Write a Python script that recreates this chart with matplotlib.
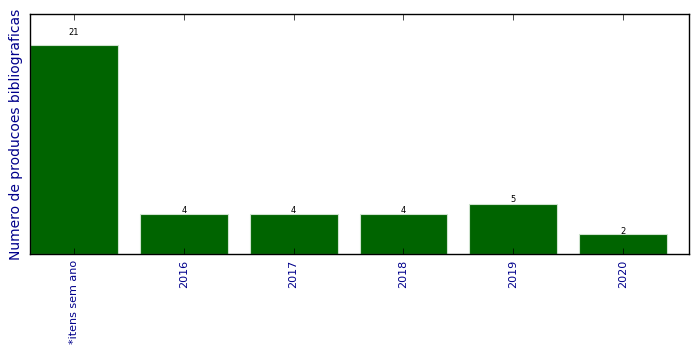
import matplotlib
matplotlib.use("Agg")
import matplotlib.pyplot as plt
import numpy as np

categories = ["*itens sem ano", "2016", "2017", "2018", "2019", "2020"]
values = [21, 4, 4, 4, 5, 2]

plt.style.use("classic")
fig = plt.figure(figsize=(6.99, 3.54), dpi=100)
ax = fig.add_axes([30/699, 1-254/354, 659/699, 240/354])
x = np.arange(len(categories))
ax.bar(x, values, width=0.8, color="#006400", edgecolor="#cfe3cf", linewidth=0.8, align="center")
for xi, v in zip(x, values):
    ax.annotate(str(v), (xi, v * 1.05), xytext=(0, 1.5), textcoords="offset points",
                ha="center", va="center", fontsize=6)
ax.set_xlim(-0.4, 5.6)
ax.set_ylim(0, 24.15)
ax.set_xticks(x)
ax.set_xticklabels(categories, rotation=90, color="darkblue", fontsize=8)
ax.set_yticks([])
ax.tick_params(axis="x", direction="in", top=True, length=4)
ax.set_ylabel("Numero de producoes bibliograficas", color="darkblue", fontsize=10)
fig.savefig("out.png", dpi=100)
